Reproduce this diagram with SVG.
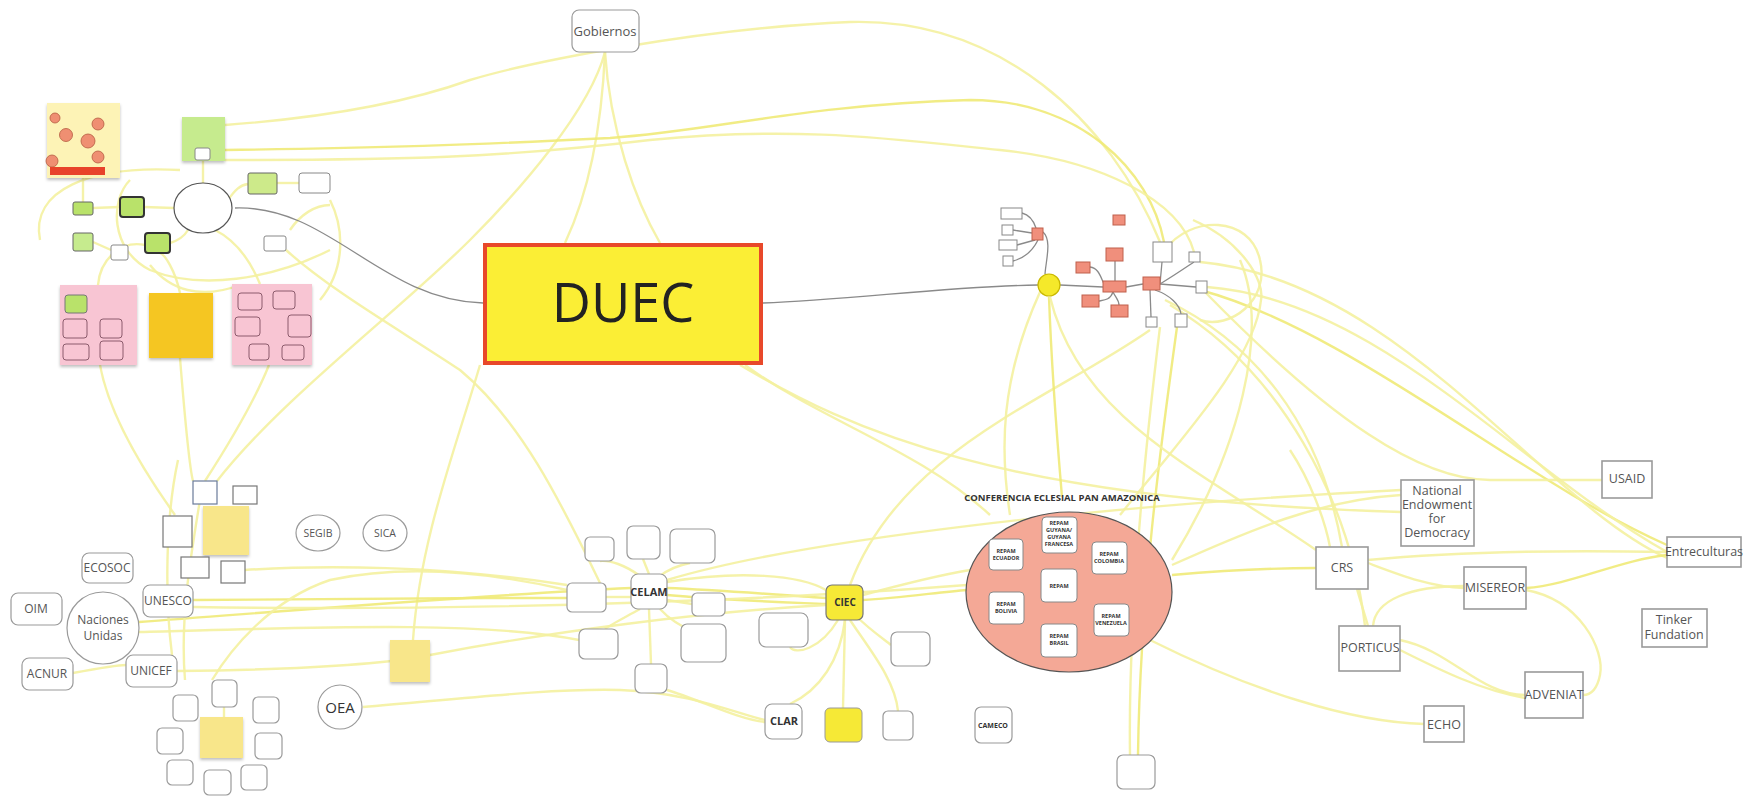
<svg xmlns="http://www.w3.org/2000/svg" width="1758" height="804" viewBox="0 0 1758 804">
<defs>
<filter id="sh" x="-10%" y="-10%" width="130%" height="130%"><feDropShadow dx="0" dy="2" stdDeviation="1.5" flood-color="#000" flood-opacity="0.25"/></filter>
<style>
.c{fill:none;stroke:#f4f1a0;stroke-width:2.4;opacity:.9}
.cb{fill:none;stroke:#efea78;stroke-width:2.4;opacity:.9}
.g{fill:none;stroke:#8a8a8a;stroke-width:1.3}
.nb{fill:#fff;stroke:#9a9a9a;stroke-width:1.2}
.fb{fill:#fff;stroke:#9a9a9a;stroke-width:1.6}
.sb{fill:#fff;stroke:#888;stroke-width:1}
.pb{fill:none;stroke:#8c5b6c;stroke-width:1}
.t{font-family:"Open Sans","Liberation Sans",sans-serif;fill:#555;text-anchor:middle}
.tb{font-family:"Open Sans","Liberation Sans",sans-serif;fill:#333;text-anchor:middle;font-weight:bold}
.rp{fill:#f08f7c;stroke:#c0604c;stroke-width:1}
.rw{fill:#fff;stroke:#888;stroke-width:1}
.ys{fill:#f8e68a}
</style>
</defs>
<rect width="1758" height="804" fill="#fff"/>
<g id="connectors">
<path class="c" d="M83,178 L83,202"/>
<path class="c" d="M93,208 L120,207"/>
<path class="c" d="M144,207 L174,208"/>
<path class="c" d="M93,242 L111,250"/>
<path class="c" d="M170,243 C180,240 185,235 188,230"/>
<path class="c" d="M203,161 L203,183"/>
<path class="c" d="M228,200 C235,190 240,185 248,184"/>
<path class="c" d="M277,183 L299,183"/>
<path class="c" d="M98,285 C100,260 120,240 145,245"/>
<path class="c" d="M180,293 C175,270 165,255 160,253"/>
<path class="c" d="M260,284 C250,260 235,240 215,230"/>
<path class="c" d="M40,240 C30,190 90,165 180,170"/>
<path class="c" d="M130,180 C110,200 110,250 150,270 C200,290 270,280 330,250"/>
<path class="c" d="M330,200 C345,230 345,270 320,300"/>
<path class="c" d="M150,265 C170,290 200,300 240,285"/>
<path class="c" d="M290,230 C300,215 315,205 330,205"/>
<path class="c" d="M269,365 C255,400 225,450 205,481"/>
<path class="c" d="M286,250 C330,290 400,330 460,370 C520,420 560,500 600,583"/>
<path class="c" d="M100,365 C110,420 150,480 175,515"/>
<path class="c" d="M180,358 C185,420 190,470 193,481"/>
<path class="c" d="M605,52 C590,110 520,190 470,240 C400,310 280,400 217,481"/>
<path class="c" d="M605,52 C602,120 590,190 565,243"/>
<path class="c" d="M605,52 C610,130 635,200 660,243"/>
<path class="c" d="M225,125 C320,118 400,105 470,80 C530,62 700,28 850,22 C1000,18 1110,120 1160,242"/>
<path class="cb" d="M225,150 C380,148 470,145 610,138 C720,130 800,105 970,100 C1080,100 1150,170 1164,242"/>
<path class="c" d="M225,160 C400,160 500,158 650,140 C800,125 900,140 1000,150 C1100,160 1180,200 1194,252"/>
<path class="c" d="M480,365 C455,450 420,540 413,640"/>
<path class="c" d="M745,365 C820,420 920,450 990,515"/>
<path class="c" d="M740,365 C850,430 1000,500 1401,512"/>
<path class="cb" d="M193,600 C350,598 450,598 567,598"/>
<path class="cb" d="M139,622 C300,610 480,595 631,588"/>
<path class="c" d="M139,632 C300,628 480,620 579,640"/>
<path class="cb" d="M667,588 C720,590 780,595 826,598"/>
<path class="cb" d="M667,595 C720,600 780,602 826,604"/>
<path class="c" d="M667,582 C740,570 800,575 826,590"/>
<path class="cb" d="M863,600 C900,598 940,592 967,590"/>
<path class="c" d="M863,595 C900,585 940,575 970,570"/>
<path class="cb" d="M1172,575 C1230,570 1280,568 1316,568"/>
<path class="c" d="M1368,560 C1450,552 1560,550 1667,552"/>
<path class="c" d="M193,607 C500,612 800,598 967,585"/>
<path class="c" d="M177,671 C280,670 380,665 430,655 C550,632 700,612 826,605"/>
<path class="c" d="M363,707 C450,700 550,688 620,690 C690,692 740,715 765,720"/>
<path class="c" d="M667,580 C800,540 1100,505 1401,490"/>
<path class="c" d="M1172,565 C1250,530 1320,500 1401,495"/>
<path class="c" d="M178,460 C165,520 165,600 172,655"/>
<path class="c" d="M212,680 C230,650 270,600 330,580 C400,565 480,570 567,590"/>
<path class="c" d="M245,570 C320,565 440,565 567,585"/>
<path class="c" d="M73,673 C100,668 120,665 126,665"/>
<path class="c" d="M224,707 L224,717"/>
<path class="c" d="M200,500 C190,560 180,620 185,680"/>
<path class="c" d="M649,574 L643,559"/>
<path class="c" d="M640,576 C625,565 610,560 600,561"/>
<path class="c" d="M660,576 C670,568 680,565 690,563"/>
<path class="c" d="M631,597 L606,597"/>
<path class="c" d="M667,600 L692,604"/>
<path class="c" d="M640,609 C620,620 610,625 605,629"/>
<path class="c" d="M649,609 L651,664"/>
<path class="c" d="M660,609 C670,620 680,625 690,630"/>
<path class="c" d="M667,690 C700,700 740,720 765,722"/>
<path class="c" d="M845,620 C840,660 820,690 790,704"/>
<path class="c" d="M845,620 L843,708"/>
<path class="c" d="M850,620 C870,650 895,680 898,711"/>
<path class="c" d="M855,615 C870,630 885,640 891,645"/>
<path class="c" d="M790,647 C795,655 820,650 838,620"/>
<path class="c" d="M1165,300 C1250,340 1320,420 1342,547"/>
<path class="c" d="M1170,305 C1280,370 1350,500 1365,626"/>
<path class="cb" d="M1200,290 C1350,330 1520,480 1667,545"/>
<path class="c" d="M1207,287 C1380,300 1520,470 1667,552"/>
<path class="c" d="M1200,262 C1400,280 1540,500 1667,558"/>
<path class="c" d="M1602,480 L1490,480 C1420,480 1330,420 1205,292"/>
<path class="c" d="M1150,330 C1050,400 900,450 850,585"/>
<path class="cb" d="M1049,297 C1052,380 1058,450 1062,497"/>
<path class="cb" d="M1177,327 C1160,450 1140,600 1138,755"/>
<path class="c" d="M1160,327 C1145,450 1128,620 1130,755"/>
<path class="c" d="M1150,640 C1250,690 1350,722 1424,724"/>
<path class="c" d="M1165,250 C1190,215 1250,215 1260,260 C1270,300 1230,330 1200,320"/>
<path class="c" d="M1193,220 C1240,240 1265,280 1261,300 C1255,360 1180,440 1120,515"/>
<path class="c" d="M1240,260 C1270,330 1240,450 1172,560"/>
<path class="c" d="M1040,292 C1000,380 1000,450 1010,515"/>
<path class="c" d="M1050,297 C1080,420 1200,470 1316,550"/>
<path class="c" d="M1368,563 C1400,575 1430,587 1464,588"/>
<path class="c" d="M1464,586 C1410,586 1375,600 1373,626"/>
<path class="c" d="M1357,589 C1360,600 1365,615 1368,626"/>
<path class="c" d="M1400,640 C1450,650 1480,695 1525,695"/>
<path class="c" d="M1400,650 C1440,670 1480,690 1525,698"/>
<path class="cb" d="M1526,588 C1570,585 1620,560 1667,555"/>
<path class="c" d="M1526,590 C1580,600 1605,650 1600,675 C1597,690 1590,695 1583,695"/>
<path class="c" d="M1290,450 C1310,480 1325,520 1330,547"/>
<path class="g" d="M235,208 C330,205 380,300 483,303"/>
<path class="g" d="M763,303 C850,300 950,286 1038,285"/>
<path class="g" d="M1022,213 C1030,215 1034,222 1036,228"/>
<path class="g" d="M1013,230 L1032,233"/>
<path class="g" d="M1017,245 L1035,240"/>
<path class="g" d="M1013,261 C1025,258 1033,250 1038,240"/>
<path class="g" d="M1043,232 C1052,240 1046,260 1045,274"/>
<path class="g" d="M1060,285 L1103,287"/>
<path class="g" d="M1115,261 L1115,281"/>
<path class="g" d="M1090,267 C1098,268 1100,275 1104,284"/>
<path class="g" d="M1113,292 C1110,300 1105,300 1099,301"/>
<path class="g" d="M1113,292 C1116,298 1119,300 1119,305"/>
<path class="g" d="M1126,287 L1143,284"/>
<path class="g" d="M1160,284 L1162,262"/>
<path class="g" d="M1160,284 C1175,275 1185,268 1194,262"/>
<path class="g" d="M1160,284 L1196,287"/>
<path class="g" d="M1150,290 L1151,317"/>
<path class="g" d="M1155,290 C1170,295 1180,305 1181,314"/>
</g>
<g id="left-cluster">
<rect x="47" y="103" width="73" height="75" fill="#fdf3b6" filter="url(#sh)"/>
<g fill="#ef8f72" stroke="#b55a40" stroke-width="0.8">
<circle cx="55" cy="118" r="5"/><circle cx="66" cy="135" r="6.5"/><circle cx="98" cy="124" r="6"/><circle cx="88" cy="141" r="7"/><circle cx="98" cy="157" r="6"/><circle cx="52" cy="161" r="6"/>
</g>
<rect x="50" y="167" width="55" height="8" fill="#e8432a"/>
<rect x="182" y="117" width="43" height="44" fill="#c6eb8e" filter="url(#sh)"/>
<rect x="195" y="148" width="15" height="12" rx="2" class="sb"/>
<rect x="248" y="173" width="29" height="21" rx="2" fill="#cdea8a" stroke="#666"/>
<rect x="299" y="173" width="31" height="20" rx="3" class="sb"/>
<rect x="73" y="202" width="20" height="13" rx="2" fill="#b9e26a" stroke="#666"/>
<rect x="120" y="197" width="24" height="20" rx="3" fill="#b9e26a" stroke="#333" stroke-width="2"/>
<rect x="73" y="233" width="20" height="18" rx="2" fill="#c6eb8e" stroke="#666"/>
<rect x="111" y="245" width="17" height="15" rx="2" class="sb"/>
<rect x="145" y="233" width="25" height="20" rx="3" fill="#b9e26a" stroke="#333" stroke-width="2"/>
<rect x="264" y="236" width="22" height="15" rx="2" class="sb"/>
<ellipse cx="203" cy="208" rx="29" ry="25" fill="#fff" stroke="#555" stroke-width="1.2"/>
<rect x="60" y="285" width="77" height="80" fill="#f8c5d3" filter="url(#sh)"/>
<rect x="65" y="295" width="22" height="18" rx="3" fill="#b9e26a" stroke="#777"/>
<rect x="63" y="319" width="24" height="19" rx="3" class="pb"/>
<rect x="100" y="319" width="22" height="19" rx="3" class="pb"/>
<rect x="63" y="344" width="26" height="16" rx="3" class="pb"/>
<rect x="100" y="341" width="23" height="19" rx="3" class="pb"/>
<rect x="149" y="293" width="64" height="65" fill="#f5c623" filter="url(#sh)"/>
<rect x="232" y="284" width="80" height="81" fill="#f8c5d3" filter="url(#sh)"/>
<rect x="238" y="293" width="24" height="17" rx="3" class="pb"/>
<rect x="273" y="291" width="22" height="18" rx="3" class="pb"/>
<rect x="235" y="317" width="25" height="19" rx="3" class="pb"/>
<rect x="288" y="315" width="23" height="22" rx="3" class="pb"/>
<rect x="249" y="344" width="20" height="16" rx="3" class="pb"/>
<rect x="282" y="345" width="22" height="15" rx="3" class="pb"/>
</g>
<g id="gobiernos"><rect x="572" y="10" width="67" height="42" rx="7" class="nb"/><text x="605" y="36" class="t" font-size="13" fill="#444">Gobiernos</text></g>
<g id="duec"><rect x="485" y="245" width="276" height="118" fill="#fbee35" stroke="#e8482a" stroke-width="4"/><text x="623" y="322" class="t" font-size="54" style="fill:#222">DUEC</text></g>
<g id="right-cluster">
<rect x="1001" y="208" width="21" height="11" class="rw"/>
<rect x="1002" y="225" width="11" height="10" class="rw"/>
<rect x="999" y="240" width="18" height="10" class="rw"/>
<rect x="1003" y="256" width="10" height="10" class="rw"/>
<rect x="1032" y="228" width="11" height="12" class="rp"/>
<rect x="1113" y="215" width="12" height="10" class="rp"/>
<rect x="1106" y="248" width="17" height="13" class="rp"/>
<rect x="1076" y="262" width="14" height="11" class="rp"/>
<rect x="1103" y="281" width="23" height="11" class="rp"/>
<rect x="1082" y="295" width="17" height="12" class="rp"/>
<rect x="1111" y="305" width="17" height="12" class="rp"/>
<rect x="1143" y="277" width="17" height="13" class="rp"/>
<rect x="1153" y="242" width="19" height="20" class="rw"/>
<rect x="1189" y="252" width="11" height="10" class="rw"/>
<rect x="1196" y="281" width="11" height="12" class="rw"/>
<rect x="1146" y="317" width="11" height="10" class="rw"/>
<rect x="1175" y="314" width="12" height="13" class="rw"/>
<circle cx="1049" cy="285" r="11" fill="#f5e92a" stroke="#c9b800" stroke-width="1.2"/>
</g>
<g id="panamazonica">
<text x="1062" y="501" class="tb" font-size="9.5">CONFERENCIA ECLESIAL PAN AMAZONICA</text>
<ellipse cx="1069" cy="592" rx="103" ry="80" fill="#f4a896" stroke="#555" stroke-width="1.2"/>
<g font-size="5.5">
<rect x="989" y="539" width="34" height="31" rx="4" class="rw"/><text x="1006" y="553" class="tb">REPAM</text><text x="1006" y="560" class="tb">ECUADOR</text>
<rect x="1042" y="517" width="35" height="36" rx="4" class="rw"/><text x="1059" y="525" class="tb">REPAM</text><text x="1059" y="532" class="tb">GUYANA/</text><text x="1059" y="539" class="tb">GUYANA</text><text x="1059" y="546" class="tb">FRANCESA</text>
<rect x="1092" y="542" width="35" height="32" rx="4" class="rw"/><text x="1109" y="556" class="tb">REPAM</text><text x="1109" y="563" class="tb">COLOMBIA</text>
<rect x="1041" y="569" width="36" height="33" rx="4" class="rw"/><text x="1059" y="588" class="tb">REPAM</text>
<rect x="989" y="592" width="35" height="32" rx="4" class="rw"/><text x="1006" y="606" class="tb">REPAM</text><text x="1006" y="613" class="tb">BOLIVIA</text>
<rect x="1094" y="604" width="35" height="32" rx="4" class="rw"/><text x="1111" y="618" class="tb">REPAM</text><text x="1111" y="625" class="tb">VENEZUELA</text>
<rect x="1041" y="624" width="36" height="33" rx="4" class="rw"/><text x="1059" y="638" class="tb">REPAM</text><text x="1059" y="645" class="tb">BRASIL</text>
</g>
</g>
<g id="camecos"><rect x="975" y="707" width="37" height="36" rx="6" class="nb"/><text x="993" y="728" class="tb" font-size="7">CAMECO</text></g>
<g id="repal"><rect x="1117" y="755" width="38" height="34" rx="6" class="nb"/></g>
<g id="celam-cluster">
<rect x="585" y="537" width="29" height="24" rx="5" class="nb"/>
<rect x="627" y="526" width="33" height="33" rx="6" class="nb"/>
<rect x="670" y="529" width="45" height="34" rx="6" class="nb"/>
<rect x="631" y="574" width="36" height="35" rx="7" class="nb" stroke="#777"/><text x="649" y="596" class="tb" font-size="11">CELAM</text>
<rect x="567" y="583" width="39" height="29" rx="5" class="nb"/>
<rect x="692" y="593" width="33" height="23" rx="5" class="nb"/>
<rect x="579" y="629" width="39" height="30" rx="6" class="nb"/>
<rect x="681" y="624" width="45" height="38" rx="6" class="nb"/>
<rect x="635" y="664" width="32" height="29" rx="6" class="nb"/>
<rect x="759" y="613" width="49" height="34" rx="7" class="nb"/>
<rect x="826" y="585" width="37" height="35" rx="6" fill="#f6e936" stroke="#777" stroke-width="1.2"/><text x="845" y="606" class="tb" font-size="10">CIEC</text>
<rect x="891" y="632" width="39" height="34" rx="6" class="nb"/>
<rect x="765" y="704" width="37" height="35" rx="7" class="nb"/><text x="784" y="725" class="tb" font-size="11">CLAR</text>
<rect x="825" y="708" width="37" height="34" rx="5" fill="#f6e936" stroke="#999"/>
<rect x="883" y="711" width="30" height="29" rx="5" class="nb"/>
</g>
<g id="un-cluster">
<rect x="143" y="585" width="50" height="32" rx="7" class="nb"/><text x="168" y="605" class="t" font-size="12">UNESCO</text>
<rect x="82" y="553" width="51" height="30" rx="7" class="nb"/><text x="107" y="572" class="t" font-size="12">ECOSOC</text>
<rect x="11" y="593" width="51" height="32" rx="7" class="nb"/><text x="36" y="613" class="t" font-size="12">OIM</text>
<rect x="22" y="658" width="51" height="32" rx="7" class="nb"/><text x="47" y="678" class="t" font-size="12">ACNUR</text>
<rect x="126" y="655" width="51" height="32" rx="7" class="nb"/><text x="151" y="675" class="t" font-size="12">UNICEF</text>
<circle cx="103" cy="628" r="36" class="nb"/><text x="103" y="624" class="t" font-size="12">Naciones</text><text x="103" y="640" class="t" font-size="12">Unidas</text>
<ellipse cx="318" cy="533" rx="22" ry="18" class="nb" stroke="#777"/><text x="318" y="537" class="t" font-size="10.5">SEGIB</text>
<ellipse cx="385" cy="533" rx="22" ry="18" class="nb" stroke="#777"/><text x="385" y="537" class="t" font-size="10.5">SICA</text>
<circle cx="340" cy="707" r="22" class="nb" stroke="#666"/><text x="340" y="713" class="t" font-size="15" style="fill:#333">OEA</text>
<rect x="390" y="640" width="40" height="42" class="ys" filter="url(#sh)"/>
<rect x="193" y="481" width="24" height="23" fill="#fff" stroke="#6a7b99" stroke-width="1.2"/>
<rect x="233" y="486" width="24" height="18" fill="#fff" stroke="#777" stroke-width="1.2"/>
<rect x="163" y="516" width="29" height="31" fill="#fff" stroke="#777" stroke-width="1.2"/>
<rect x="203" y="506" width="46" height="49" class="ys" filter="url(#sh)"/>
<rect x="181" y="557" width="28" height="21" fill="#fff" stroke="#777" stroke-width="1.2"/>
<rect x="221" y="561" width="24" height="22" fill="#fff" stroke="#777" stroke-width="1.2"/>
<rect x="212" y="680" width="25" height="27" rx="5" class="nb"/>
<rect x="173" y="695" width="25" height="26" rx="5" class="nb"/>
<rect x="253" y="697" width="26" height="26" rx="5" class="nb"/>
<rect x="157" y="728" width="26" height="26" rx="5" class="nb"/>
<rect x="200" y="717" width="43" height="41" class="ys" filter="url(#sh)"/>
<rect x="255" y="733" width="27" height="26" rx="5" class="nb"/>
<rect x="167" y="760" width="26" height="25" rx="5" class="nb"/>
<rect x="204" y="770" width="27" height="25" rx="5" class="nb"/>
<rect x="241" y="765" width="26" height="25" rx="5" class="nb"/>
</g>
<g id="funders">
<g id="ned"><rect x="1401" y="480" width="73" height="66" class="fb"/><text x="1437" y="495" class="t" font-size="12.5">National</text><text x="1437" y="509" class="t" font-size="12.5">Endowment</text><text x="1437" y="523" class="t" font-size="12.5">for</text><text x="1437" y="537" class="t" font-size="12.5">Democracy</text></g>
<g id="usaid"><rect x="1602" y="461" width="50" height="37" class="fb"/><text x="1627" y="483" class="t" font-size="12.5">USAID</text></g>
<g id="entre"><rect x="1667" y="537" width="74" height="30" class="fb"/><text x="1704" y="556" class="t" font-size="12.5">Entreculturas</text></g>
<g id="crs"><rect x="1316" y="547" width="52" height="42" class="fb"/><text x="1342" y="572" class="t" font-size="12.5">CRS</text></g>
<g id="misereor"><rect x="1464" y="567" width="62" height="42" class="fb"/><text x="1495" y="592" class="t" font-size="12.5">MISEREOR</text></g>
<g id="tinker"><rect x="1642" y="609" width="65" height="38" class="fb"/><text x="1674" y="624" class="t" font-size="12.5">Tinker</text><text x="1674" y="639" class="t" font-size="12.5">Fundation</text></g>
<g id="porticus"><rect x="1339" y="626" width="61" height="45" class="fb"/><text x="1370" y="652" class="t" font-size="12.5">PORTICUS</text></g>
<g id="adveniat"><rect x="1525" y="672" width="58" height="46" class="fb"/><text x="1554" y="699" class="t" font-size="12.5">ADVENIAT</text></g>
<g id="echo"><rect x="1424" y="706" width="40" height="36" class="fb"/><text x="1444" y="729" class="t" font-size="12.5">ECHO</text></g>
</g>
</svg>
